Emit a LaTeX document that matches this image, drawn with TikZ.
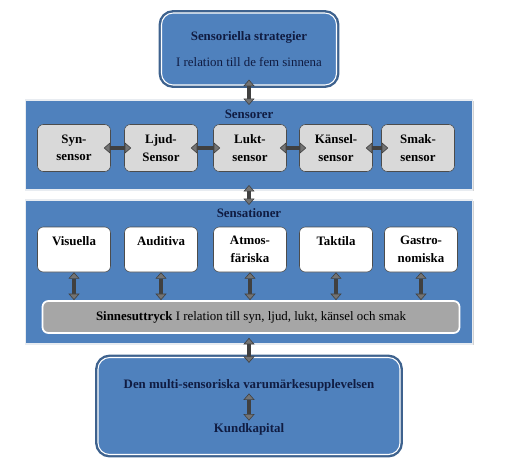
\documentclass[tikz,border=0pt]{standalone}
\usepackage{fontspec}
\setmainfont{Liberation Serif}
\usetikzlibrary{arrows.meta,shadows,positioning}

\definecolor{boxblue}{RGB}{79,129,189}
\definecolor{rimblue}{RGB}{62,98,142}
\definecolor{navy}{RGB}{16,28,66}
\definecolor{sensorgray}{RGB}{217,217,217}
\definecolor{bargray}{RGB}{166,166,166}
\definecolor{bandrim}{RGB}{232,236,241}

\newcommand{\dfont}{\fontsize{11}{13}\selectfont}

\tikzset{
  bluebox/.style={rectangle, rounded corners=10pt, fill=boxblue, draw=white, line width=0.9pt,
    preaction={draw=rimblue, line width=5pt}},
  band/.style={rectangle, fill=boxblue, draw=bandrim, line width=1.5pt,
    drop shadow={shadow xshift=1.2pt, shadow yshift=-1.2pt, opacity=0.35}},
  sensorbox/.style={rectangle, rounded corners=5pt, fill=sensorgray, draw=black!70, line width=0.5pt,
    minimum width=2.19cm, minimum height=1.41cm, align=center, font=\dfont\bfseries},
  sensbox/.style={rectangle, rounded corners=5pt, fill=white, draw=black!70, line width=0.5pt,
    minimum width=2.19cm, minimum height=1.35cm, align=center, font=\dfont\bfseries},
  headline/.style={text=navy, font=\dfont\bfseries, inner sep=2pt},
  bigarrow/.style={draw=black!75, line width=3.4pt,
    {Triangle[width=9.5pt,length=5.5pt,line width=0.5pt,fill=black!55]}-{Triangle[width=9.5pt,length=5.5pt,line width=0.5pt,fill=black!55]}},
}

\begin{document}
\begin{tikzpicture}[x=0.03cm, y=-0.03cm]
  \useasboundingbox (0,0) rectangle (505,462);

  % strategier
  \node[bluebox, minimum width=5.25cm, minimum height=2.16cm, align=center, text=navy, font=\dfont]
    (strat) at (249,49) {\textbf{Sensoriella strategier}\\[9pt]I relation till de fem sinnena};

  % sensorer
  \node[band, minimum width=13.41cm, minimum height=2.7cm] (sensorer) at (249,145) {};
  \node[headline] (sensorertitle) at (249,114) {Sensorer};

  \node[sensorbox] (syn) at (74,148) {Syn-\\[2pt]sensor};
  \node[sensorbox] (ljud) at (161,148) {Ljud-\\[2pt]Sensor};
  \node[sensorbox] (lukt) at (250,148) {Lukt-\\[2pt]sensor};
  \node[sensorbox] (kansel) at (336,148) {Känsel-\\[2pt]sensor};
  \node[sensorbox] (smak) at (418,148) {Smak-\\[2pt]sensor};

  % sensationer
  \node[band, minimum width=13.41cm, minimum height=4.32cm] (sensationer) at (249,272) {};
  \node[headline] (sensationertitle) at (249,213) {Sensationer};

  \node[sensbox] (visuella) at (74,249.5) {Visuella\\[2pt]\mbox{}};
  \node[sensbox] (auditiva) at (161,249.5) {Auditiva\\[2pt]\mbox{}};
  \node[sensbox] (atmos) at (250,249.5) {Atmos-\\[2pt]färiska};
  \node[sensbox] (taktila) at (336,249.5) {Taktila\\[2pt]\mbox{}};
  \node[sensbox] (gastro) at (421,249.5) {Gastro-\\[2pt]nomiska};

  \node[rectangle, rounded corners=5pt, fill=bargray, draw=white, line width=1.5pt,
    minimum width=12.51cm, minimum height=0.96cm, font=\dfont] (uttryck) at (251,317)
    {\textbf{Sinnesuttryck} I relation till syn, ljud, lukt, känsel och smak};

  % upplevelsen
  \node[bluebox, minimum width=9.06cm, minimum height=2.91cm] (upplevelse) at (249,406) {};
  \node[headline] (multi) at (249,385) {Den multi-sensoriska varumärkesupplevelsen};
  \node[headline] (kund) at (249,429) {Kundkapital};

  \draw[bigarrow, shorten <=-5pt, shorten >=-5pt] (strat) -- (sensorer);
  \draw[bigarrow, shorten <=-5pt, shorten >=-5pt] (sensorer) -- (sensationer);
  \draw[bigarrow, shorten <=-6pt, shorten >=-5pt] (sensationer) -- (upplevelse);

  \draw[bigarrow, shorten <=-6pt, shorten >=-6pt] (syn) -- (ljud);
  \draw[bigarrow, shorten <=-6pt, shorten >=-6pt] (ljud) -- (lukt);
  \draw[bigarrow, shorten <=-6pt, shorten >=-6pt] (lukt) -- (kansel);
  \draw[bigarrow, shorten <=-6pt, shorten >=-6pt] (kansel) -- (smak);

  \foreach \s in {visuella,auditiva,atmos,taktila,gastro}
    \draw[bigarrow] (\s) -- (\s |- uttryck.north);

  \draw[bigarrow] (multi) -- (kund);
\end{tikzpicture}
\end{document}
